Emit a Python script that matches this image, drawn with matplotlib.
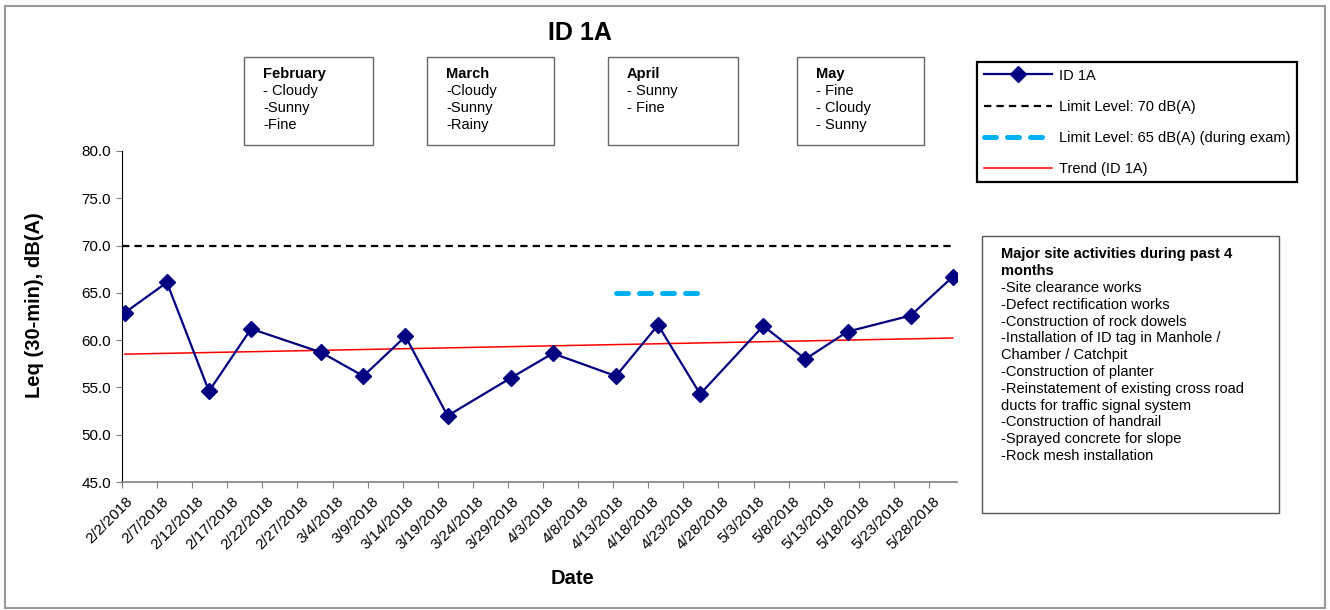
import numpy as np
import pandas as pd
import matplotlib
matplotlib.use("Agg")
import matplotlib.pyplot as plt
import matplotlib.dates as mdates
from matplotlib.patches import Rectangle
from matplotlib.ticker import FixedLocator, FixedFormatter, MultipleLocator
from matplotlib.transforms import ScaledTranslation

plt.rcParams['font.family'] = ['Liberation Sans', 'DejaVu Sans']

# data
dates = ['2018-02-02 09:30', '2018-02-08 09:30', '2018-02-14 09:30', '2018-02-20 09:30',
         '2018-03-02 09:30', '2018-03-08 09:30', '2018-03-14 09:30', '2018-03-20 09:30',
         '2018-03-29 09:30', '2018-04-04 09:30', '2018-04-13 09:30', '2018-04-19 09:30',
         '2018-04-25 09:30', '2018-05-04 09:30', '2018-05-10 09:30', '2018-05-16 09:30',
         '2018-05-25 09:30', '2018-05-31 09:30']
leq = [62.9, 66.1, 54.6, 61.2, 58.7, 56.2, 60.4, 52.0, 56.0, 58.6, 56.2, 61.6,
       54.3, 61.5, 58.0, 60.9, 62.6, 66.7]
limit_70 = 70
limit_65 = 65
exam_dates = ['2018-04-13 09:30', '2018-04-25 09:30']

weather = {
    'February': ['- Cloudy', '-Sunny', '-Fine'],
    'March': ['-Cloudy', '-Sunny', '-Rainy'],
    'April': ['- Sunny', '- Fine'],
    'May': ['- Fine', '- Cloudy', '- Sunny'],
}
activities_title = ['Major site activities during past 4', 'months']
activities = ['-Site clearance works', '-Defect rectification works',
              '-Construction of rock dowels', '-Installation of ID tag in Manhole /',
              'Chamber / Catchpit', '-Construction of planter',
              '-Reinstatement of existing cross road', 'ducts for traffic signal system',
              '-Construction of handrail', '-Sprayed concrete for slope',
              '-Rock mesh installation']

W, H = 1330, 610


def fx(x):
    return x / W


def fy(y):
    return 1 - y / H


fig = plt.figure(figsize=(13.3, 6.1), dpi=100)
ax = fig.add_axes([fx(122), fy(482), fx(957) - fx(122), fy(151) - fy(482)])

t = mdates.date2num(pd.to_datetime(dates))
te = mdates.date2num(pd.to_datetime(exam_dates))

line_id, = ax.plot(t, leq, color='#000080', lw=1.6, marker='D', ms=8,
                   label='ID 1A', zorder=4)
line70, = ax.plot([t[0] - 0.4, t[-1]], [limit_70, limit_70], color='black', lw=1.6,
                  dashes=(3.3, 2.3), label='Limit Level: 70 dB(A)')
line65, = ax.plot(te, [limit_65, limit_65], color='#00B0F0', lw=3.6,
                  dashes=(2.4, 2.2), dash_capstyle='round',
                  label='Limit Level: 65 dB(A) (during exam)')
k, b = np.polyfit(t, leq, 1)
trend, = ax.plot([t[0], t[-1]], [k * t[0] + b, k * t[-1] + b], color='red', lw=1.1,
                 label='Trend (ID 1A)', zorder=3)

x0 = mdates.date2num(pd.Timestamp('2018-02-02'))
x1 = mdates.date2num(pd.Timestamp('2018-06-01'))
ax.set_xlim(x0, x1)
ax.set_ylim(45, 80)

tick_days = pd.date_range('2018-02-02', '2018-05-28', freq='5D')
ax.xaxis.set_major_locator(FixedLocator(mdates.date2num(tick_days)))
ax.xaxis.set_major_formatter(FixedFormatter([f'{d.month}/{d.day}/{d.year}' for d in tick_days]))
ax.yaxis.set_major_locator(MultipleLocator(5))
ax.yaxis.set_major_formatter(matplotlib.ticker.FormatStrFormatter('%.1f'))

ax.spines['top'].set_visible(False)
ax.spines['right'].set_visible(False)
ax.spines['bottom'].set_color('#808080')
ax.spines['bottom'].set_linewidth(1.2)
ax.spines['left'].set_color('black')
ax.tick_params(axis='y', direction='out', length=4, color='#808080', labelsize=11, pad=4)
ax.tick_params(axis='x', direction='out', length=4, color='#808080', labelsize=11, pad=5)
off = ScaledTranslation(4 / 100, 0, fig.dpi_scale_trans)
for lab in ax.get_xticklabels():
    lab.set_rotation(45)
    lab.set_ha('right')
    lab.set_va('top')
    lab.set_rotation_mode('anchor')
    lab.set_transform(lab.get_transform() + off)

fig.text(fx(580), fy(33), 'ID 1A', fontsize=18, fontweight='bold', ha='center', va='center')
fig.text(fx(35), fy(305), 'Leq (30-min), dB(A)', fontsize=14.5, fontweight='bold',
         rotation=90, ha='center', va='center')
fig.text(fx(572), fy(578), 'Date', fontsize=14.5, fontweight='bold', ha='center', va='center')

# weather boxes
box_x = {'February': (244, 373), 'March': (427, 554), 'April': (608, 738), 'May': (797, 924)}
for month, items in weather.items():
    xa, xb = box_x[month]
    fig.add_artist(Rectangle((fx(xa), fy(145)), fx(xb) - fx(xa), fy(57) - fy(145),
                             transform=fig.transFigure, fill=False, ec='#666666', lw=1.0))
    fig.text(fx(xa + 19), fy(74), month, fontsize=10.5, fontweight='bold', va='center')
    for i, s in enumerate(items):
        fig.text(fx(xa + 19), fy(91 + 17 * i), s, fontsize=10.5, va='center')

# activities box
fig.add_artist(Rectangle((fx(982), fy(513)), fx(1279) - fx(982), fy(236) - fy(513),
                         transform=fig.transFigure, fill=False, ec='#555555', lw=1.0))
for i, s in enumerate(activities_title):
    fig.text(fx(1001), fy(254 + 17 * i), s, fontsize=10.5, fontweight='bold', va='center')
for i, s in enumerate(activities):
    fig.text(fx(1001), fy(288 + 16.8 * i), s, fontsize=10.5, va='center')

leg = fig.legend(handles=[line_id, line70, line65, trend], loc='upper left',
                 bbox_to_anchor=(fx(977), fy(62)), bbox_transform=fig.transFigure,
                 fontsize=10.5, frameon=True, fancybox=False, framealpha=1,
                 handlelength=4.7, handletextpad=0.5, labelspacing=1.17,
                 borderpad=0.45, borderaxespad=0)
leg.get_frame().set_edgecolor('black')
leg.get_frame().set_linewidth(1.6)

# outer chart border
fig.add_artist(Rectangle((fx(5), fy(608)), fx(1325) - fx(5), fy(6) - fy(608),
                         transform=fig.transFigure, fill=False, ec='#999999', lw=1.5))

fig.savefig('out.png', dpi=100)
